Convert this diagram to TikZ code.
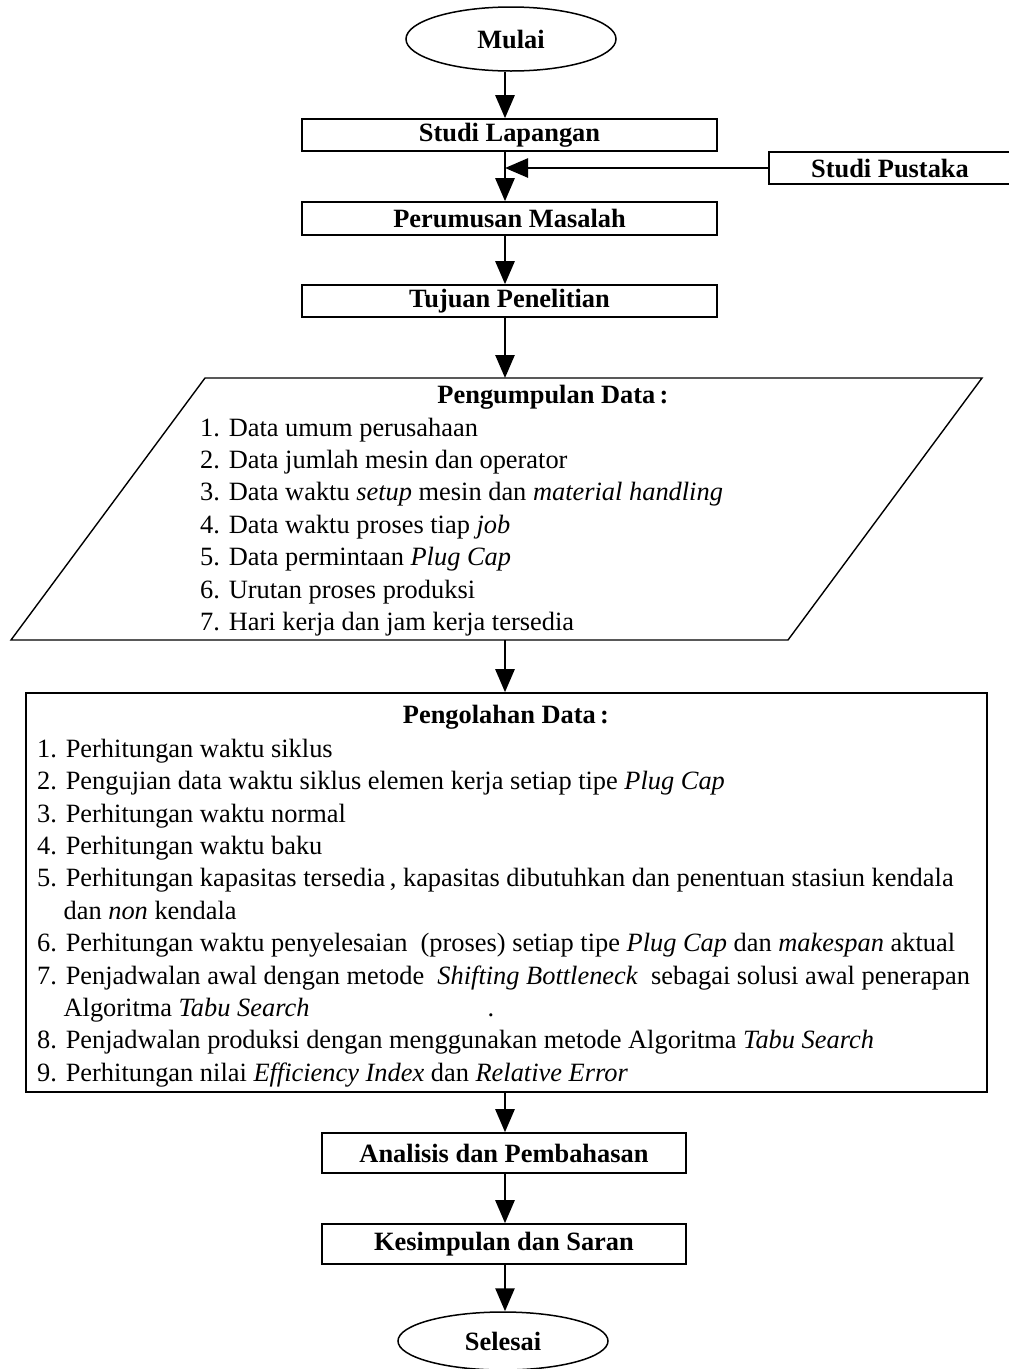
\documentclass[tikz,border=0pt]{standalone}
\usepackage{fontspec}
\setmainfont{Liberation Serif}
\usetikzlibrary{arrows.meta,shapes.geometric}

\newcommand{\ind}{\hphantom{1.~}}

\begin{document}
\begin{tikzpicture}[
  x=1pt, y=-1pt,
  font=\fontsize{26.4}{32.4}\selectfont,
  box/.style={draw, line width=1.6pt, inner sep=0pt, minimum width=415pt,
              minimum height=32pt, font=\fontsize{26.4}{32.4}\selectfont\bfseries},
  oval/.style={draw, ellipse, line width=1.5pt, inner sep=0pt, minimum width=210pt,
               font=\fontsize{26.4}{32.4}\selectfont\bfseries},
  list/.style={align=left, inner sep=0pt, anchor=west},
  arr/.style={-{Triangle[length=23pt, width=19pt]}, line width=2.6pt},
]
\useasboundingbox (0,0) rectangle (1009,1369);
\coordinate (trunk) at (505,0);

\node[oval, minimum height=64pt] (mulai) at (511,39) {Mulai};
\node[box] (lapangan) at (509.5,135) {Studi Lapangan};
\node[box, minimum width=242pt] (pustaka) at (890,168) {Studi Pustaka};
\node[box, minimum height=33pt] (rumusan) at (509.5,218.5) {Perumusan Masalah};
\node[box] (tujuan) at (509.5,301) {Tujuan Penelitian};

% pengumpulan data
\draw[line width=1.4pt] (205,378) coordinate (kumpul top) -- (982,378)
  -- (788,640) -- (11,640) -- cycle;
\coordinate (kumpul bot) at (505,640);
\node[font=\fontsize{26.4}{32.4}\selectfont\bfseries] (kumpul) at (553,397)
  {Pengumpulan Data\,:};
\node[list] (kumpul list) at (200,527) {%
  1. Data umum perusahaan\\
  2. Data jumlah mesin dan operator\\
  3. Data waktu \textit{setup} mesin dan \textit{material handling}\\
  4. Data waktu proses tiap \textit{job}\\
  5. Data permintaan \textit{Plug Cap}\\
  6. Urutan proses produksi\\
  7. Hari kerja dan jam kerja tersedia};

% pengolahan data
\node[draw, line width=1.6pt, minimum width=961pt, minimum height=399pt]
  (olah box) at (506.5,892.5) {};
\node[font=\fontsize{26.4}{32.4}\selectfont\bfseries] (olah) at (506,717)
  {Pengolahan Data\,:};
\node[list] (olah list) at (37,913) {%
  1. Perhitungan waktu siklus\\
  2. Pengujian data waktu siklus elemen kerja setiap tipe \textit{Plug Cap}\\
  3. Perhitungan waktu normal\\
  4. Perhitungan waktu baku\\
  5. Perhitungan kapasitas tersedia\,, kapasitas dibutuhkan dan penentuan stasiun kendala\\
  \ind dan \textit{non} kendala\\
  6. Perhitungan waktu penyelesaian\ \ (proses) setiap tipe \textit{Plug Cap} dan \textit{makespan} aktual\\
  7. Penjadwalan awal dengan metode \ \textit{Shifting Bottleneck} \ sebagai solusi awal penerapan\\
  \ind Algoritma \textit{Tabu Search}\hspace{178pt}.\\
  8. Penjadwalan produksi dengan menggunakan metode Algoritma \textit{Tabu Search}\\
  9. Perhitungan nilai \textit{Efficiency Index} dan \textit{Relative Error}};

\node[box, minimum width=364pt, minimum height=40pt] (analisis) at (504,1153)
  {Analisis dan Pembahasan};
\node[box, minimum width=364pt, minimum height=40pt] (simpul) at (504,1244)
  {Kesimpulan dan Saran};
\node[oval, minimum height=58pt] (selesai) at (503,1341) {Selesai};

\draw[arr] (mulai.south -| trunk) -- (lapangan.north -| trunk);
\draw[arr] (lapangan.south -| trunk) -- (rumusan.north -| trunk);
\draw[arr] (pustaka.west) -- (pustaka.west -| trunk);
\draw[arr] (rumusan.south -| trunk) -- (tujuan.north -| trunk);
\draw[arr] (tujuan.south -| trunk) -- (kumpul top -| trunk);
\draw[arr] (kumpul bot) -- (olah box.north -| trunk);
\draw[arr] (olah box.south -| trunk) -- (analisis.north -| trunk);
\draw[arr] (analisis.south -| trunk) -- (simpul.north -| trunk);
\draw[arr] (simpul.south -| trunk) -- (selesai.north -| trunk);
\end{tikzpicture}
\end{document}
